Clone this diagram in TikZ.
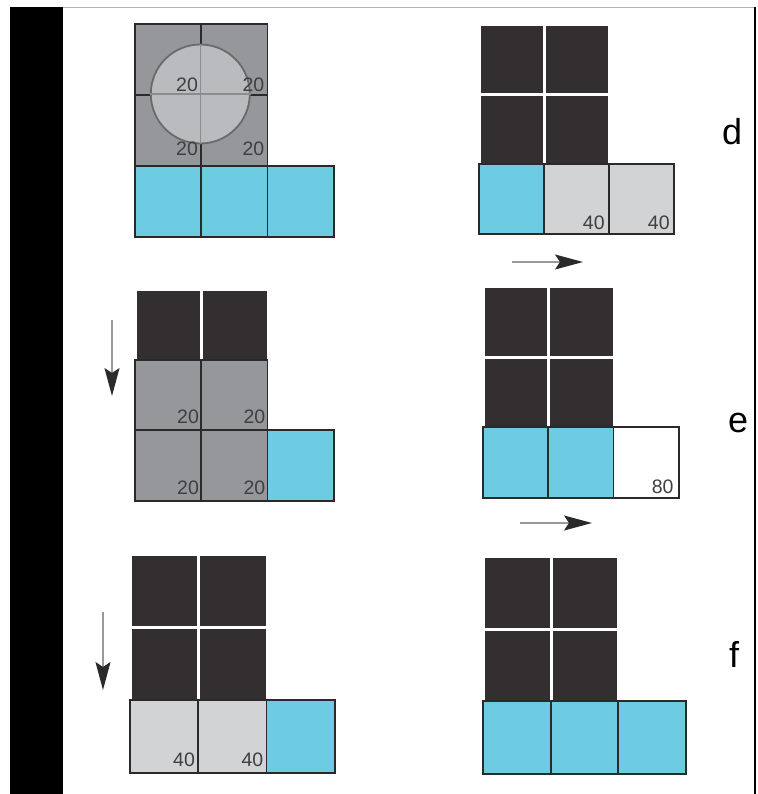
\documentclass[tikz,border=0pt]{standalone}
\usepackage{fontspec}
\setmainfont{Liberation Sans}
\usepackage{tikz}
\usetikzlibrary{arrows.meta}
\definecolor{celldark}{HTML}{332F30}
\definecolor{cellblue}{HTML}{6ECCE2}
\definecolor{cellgray}{HTML}{96979A}
\definecolor{celllight}{HTML}{D1D3D4}
\definecolor{ringfill}{HTML}{B9BBBE}
\definecolor{cellink}{HTML}{2A2A2A}
\tikzset{
  cell/.style={anchor=north west, inner sep=0pt, line width=1.8pt},
  dk/.style={cell, fill=celldark, draw=white, line width=3pt},
  bl/.style={cell, fill=cellblue, draw=cellink},
  gy/.style={cell, fill=cellgray, draw=cellink},
  lt/.style={cell, fill=celllight, draw=cellink},
  wh/.style={cell, fill=white, draw=cellink},
  ring/.style={circle, minimum size=99pt, inner sep=0pt, fill=ringfill, draw=cellink!70, line width=1.8pt},
  xl/.style={draw=black!45, line width=1.5pt},
  num/.style={anchor=south east, inner sep=0pt, text=cellink!90, font=\fontsize{19.5}{19.5}\selectfont},
  tag/.style={inner sep=0pt, font=\fontsize{36}{36}\selectfont},
  mv/.style={-{Stealth[length=28pt, width=15pt, inset=5pt, color=cellink]}, line width=1.6pt, color=black!40},
  panel/.style n args={4}{shift={(#1,#2)}, x=#3pt, y=-#4pt, cell/.append style={minimum width=#3pt, minimum height=#4pt}},
}

\begin{document}
\begin{tikzpicture}[x=1pt, y=-1pt]
  \useasboundingbox (0,0) rectangle (757,794);
  \fill[black] (10,7) rectangle (63,794);
  \draw[black!30, line width=1pt] (63,7.5) -- (755,7.5);
  \draw[black, line width=2pt] (755,7) -- (755,794);

  \begin{scope}[panel={134}{23}{66.3}{71}]
    \foreach \c in {0,1} \foreach \r in {0,1} \node[gy] (p1c\c\r) at (\c,\r) {};
    \foreach \c in {0,1,2} \node[bl] (p1c\c2) at (\c,2) {};
    \node[ring] (p1ring) at (1,1) {};
    \draw[xl] (p1ring.north) -- (p1ring.south) (p1ring.west) -- (p1ring.east);
    \foreach \c in {0,1} {
      \node[num] (p1n\c0) at ([xshift=-4pt,yshift=4pt]p1c\c0.south east) {20};
      \node[num] (p1n\c1) at ([xshift=-4pt,yshift=11pt]p1c\c1.south east) {20};
    }
  \end{scope}

  \begin{scope}[panel={478}{23}{65}{70}]
    \foreach \c in {0,1} \foreach \r in {0,1} \node[dk] (p2c\c\r) at (\c,\r) {};
    \node[bl] (p2c02) at (0,2) {};
    \foreach \c in {1,2} {
      \node[lt] (p2c\c2) at (\c,2) {};
      \node[num] (p2n\c) at ([xshift=-5pt,yshift=5pt]p2c\c2.south east) {40};
    }
  \end{scope}

  \begin{scope}[panel={134}{288}{66.3}{70.7}]
    \foreach \c in {0,1} \node[dk] (p3c\c0) at (\c,0) {};
    \foreach \c in {0,1} \foreach \r in {1,2} {
      \node[gy] (p3c\c\r) at (\c,\r) {};
      \node[num] (p3n\c\r) at ([xshift=-3pt,yshift=7pt]p3c\c\r.south east) {20};
    }
    \node[bl] (p3c22) at (2,2) {};
  \end{scope}

  \begin{scope}[panel={482}{285}{65.3}{70.7}]
    \foreach \c in {0,1} \foreach \r in {0,1} \node[dk] (p4c\c\r) at (\c,\r) {};
    \foreach \c in {0,1} \node[bl] (p4c\c2) at (\c,2) {};
    \node[wh] (p4c22) at (2,2) {};
    \node[num] (p4n) at ([xshift=-6pt,yshift=5pt]p4c22.south east) {80};
  \end{scope}

  \begin{scope}[panel={129}{553}{68.3}{73}]
    \foreach \c in {0,1} \foreach \r in {0,1} \node[dk] (p5c\c\r) at (\c,\r) {};
    \foreach \c in {0,1} {
      \node[lt] (p5c\c2) at (\c,2) {};
      \node[num] (p5n\c) at ([xshift=-4pt,yshift=7pt]p5c\c2.south east) {40};
    }
    \node[bl] (p5c22) at (2,2) {};
  \end{scope}

  \begin{scope}[panel={482}{555}{67.7}{72.7}]
    \foreach \c in {0,1} \foreach \r in {0,1} \node[dk] (p6c\c\r) at (\c,\r) {};
    \foreach \c in {0,1,2} \node[bl] (p6c\c2) at (\c,2) {};
  \end{scope}

  \node[tag] (ld) at (732,132) {d};
  \node[tag] (le) at (738,423) {e};
  \node[tag] (lf) at (734,654) {f};

  \coordinate (h1a) at (512,262); \coordinate (h1b) at (583,262);
  \coordinate (h2a) at (520,523); \coordinate (h2b) at (592,523);
  \coordinate (v1a) at (112,320); \coordinate (v1b) at (112,396);
  \coordinate (v2a) at (103,612); \coordinate (v2b) at (103,690);
  \draw[mv] (h1a) -- (h1b);
  \draw[mv] (h2a) -- (h2b);
  \draw[mv] (v1a) -- (v1b);
  \draw[mv] (v2a) -- (v2b);
\end{tikzpicture}
\end{document}
